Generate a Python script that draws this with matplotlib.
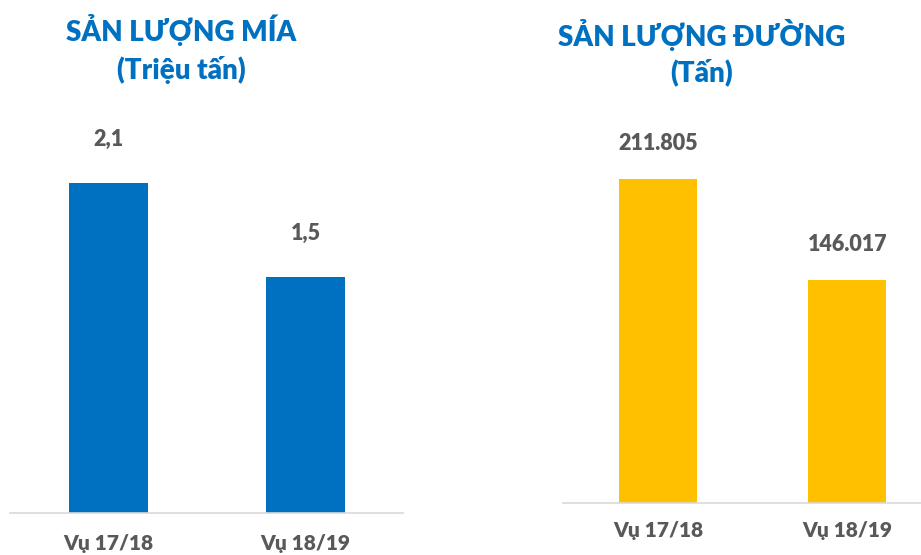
import matplotlib
matplotlib.use("Agg")
import matplotlib.pyplot as plt

categories = ["Vụ 17/18", "Vụ 18/19"]
mia_values = [2.1, 1.5]
mia_labels = ["2,1", "1,5"]
duong_values = [211805, 146017]
duong_labels = ["211.805", "146.017"]

plt.rcParams['font.family'] = ['Lato', 'DejaVu Sans']

W, H = 921, 555
fig = plt.figure(figsize=(W/100, H/100), dpi=100)
fig.patch.set_facecolor('white')

BLUE = '#0070C0'
YELLOW = '#FFC000'
GRAY = '#595959'
LINE = '#D9D9D9'

def px_axes(x0, x1, ybase, ytop):
    return fig.add_axes([x0/W, (H-ybase)/H, (x1-x0)/W, (ybase-ytop)/H])

def style(ax, pad):
    for s in ['top', 'right', 'left']:
        ax.spines[s].set_visible(False)
    ax.spines['bottom'].set_color(LINE)
    ax.spines['bottom'].set_linewidth(1.2)
    ax.set_yticks([])
    ax.tick_params(axis='x', length=0, pad=pad)
    for t in ax.get_xticklabels():
        t.set_fontsize(15)
        t.set_fontweight('heavy')
        t.set_color(GRAY)

x = list(range(len(categories)))

# Left panel
ax1 = px_axes(10, 403, 513, 100)
ax1.bar(x, mia_values, width=0.40, color=BLUE)
ax1.set_xlim(-0.5, 1.495)
ax1.set_ylim(0, 413/157.1)
ax1.set_xticks(x)
ax1.set_xticklabels(categories)
style(ax1, 15)
for xi, v, lab in zip(x, mia_values, mia_labels):
    ax1.annotate(lab, (xi, v), xytext=(0, 24), textcoords='offset points',
                 ha='center', va='bottom', fontsize=15.5, fontweight='heavy', color=GRAY)

# Right panel
ax2 = px_axes(563, 921, 503, 100)
ax2.bar(x, duong_values, width=0.413, color=YELLOW)
ax2.set_xlim(-0.503, 1.39)
ax2.set_ylim(0, 403/0.001530)
ax2.set_xticks(x)
ax2.set_xticklabels(categories)
style(ax2, 13)
for xi, v, lab in zip(x, duong_values, duong_labels):
    ax2.annotate(lab, (xi, v), xytext=(0, 18), textcoords='offset points',
                 ha='center', va='bottom', fontsize=15.5, fontweight='heavy', color=GRAY)

# Titles
fig.text(181/W, 1-30/H, "SẢN LƯỢNG MÍA", ha='center', va='center',
         fontsize=20, fontweight='heavy', color=BLUE)
fig.text(181/W, 1-70/H, "(Triệu tấn)", ha='center', va='center',
         fontsize=20, fontweight='heavy', color=BLUE)
fig.text(702/W, 1-35/H, "SẢN LƯỢNG ĐƯỜNG", ha='center', va='center',
         fontsize=20, fontweight='heavy', color=BLUE)
fig.text(702/W, 1-72/H, "(Tấn)", ha='center', va='center',
         fontsize=20, fontweight='heavy', color=BLUE)

fig.savefig("out.png", dpi=100, facecolor='white')
